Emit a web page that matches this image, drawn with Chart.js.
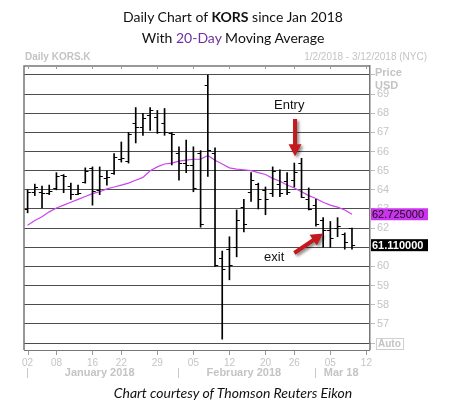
<!DOCTYPE html>
<html><head><meta charset="utf-8">
<script src="https://cdn.jsdelivr.net/npm/chart.js@4.4.1/dist/chart.umd.min.js"></script>
<style>
html,body{margin:0;padding:0;background:#fff;}
#wrap{position:relative;width:466px;height:408px;overflow:hidden;background:#fff;}
#c{position:absolute;left:0;top:0;}
.t{position:absolute;left:0;width:466px;text-align:center;font-family:Lato,'Open Sans',sans-serif;color:#111;white-space:nowrap;font-size:14px;line-height:17px;}
.s{position:absolute;top:51px;font-family:'Liberation Sans',Arial,sans-serif;font-size:10px;line-height:12px;color:#c4c4c4;white-space:nowrap;}
</style></head><body>
<div id="wrap">
<canvas id="c" width="466" height="408"></canvas>
<div class="t" style="top:8px;">Daily Chart of <b>KORS</b> since Jan 2018</div>
<div class="t" style="top:29px;">With <span style="color:#7030a0">20-Day</span> Moving Average</div>
<div class="s" style="left:25px;font-weight:bold;">Daily KORS.K</div>
<div class="s" style="right:39px;">1/2/2018 - 3/12/2018 (NYC)</div>
<div class="t" style="top:384px;font-style:italic;">Chart courtesy of Thomson Reuters Eikon</div>
</div>
<script>
// Trading days shown on the axis
const dates = ['01-02','01-03','01-04','01-05','01-08','01-09','01-10','01-11','01-12','01-16','01-17','01-18','01-19','01-22','01-23','01-24','01-25','01-26','01-29','01-30','01-31',
'02-01','02-02','02-05','02-06','02-07','02-08','02-09','02-12','02-13','02-14','02-15','02-16','02-20','02-21','02-22','02-23','02-26','02-27','02-28',
'03-01','03-02','03-05','03-06','03-07','03-08','03-09','03-12'];
const opens  = [63.0,63.9,63.9,63.85,64.1,64.75,64.2,63.8,64.4,65.15,64.0,64.6,64.9,65.6,65.5,67.5,67.3,67.9,67.8,67.5,66.95,65.9,65.4,65.3,65.9,69.5,65.9,60.45,60.9,61.0,63.1,63.9,64.3,64.0,63.85,64.3,64.45,64.5,65.4,63.5,63.2,62.45,61.9,62.0,61.7,62.0];
const highs  = [64.0,64.3,64.2,64.25,64.9,64.8,64.35,64.25,65.15,65.2,65.2,65.0,65.9,66.5,67.0,68.3,68.0,68.3,68.15,68.25,67.0,66.25,66.6,66.25,66.05,70.0,66.2,60.8,61.55,62.95,63.5,64.9,64.35,64.15,65.2,65.05,64.9,65.4,65.65,64.1,63.5,62.55,62.35,62.55,61.75,62.0];
const lows   = [62.8,63.7,63.05,63.75,64.0,63.85,63.5,63.75,64.35,63.2,63.75,64.25,64.8,65.45,65.4,66.45,66.85,67.1,66.95,66.85,65.3,64.5,64.9,63.9,62.05,64.7,60.0,56.2,59.3,60.5,61.8,63.4,63.0,62.7,63.65,63.65,63.75,64.15,63.6,62.95,62.1,61.0,61.0,61.55,60.9,60.9];
const closes = [63.9,64.15,63.85,63.95,64.7,64.7,63.8,63.85,65.0,63.95,64.7,64.65,65.7,65.65,66.9,67.3,67.75,68.15,67.0,67.0,66.9,65.4,65.3,64.1,62.2,66.1,60.1,59.85,60.05,62.45,62.2,64.5,63.5,63.5,65.0,63.85,63.9,64.95,63.65,63.0,62.2,61.9,61.5,62.1,61.3,61.11];
const ma20   = [62.15,62.4,62.6,62.85,63.05,63.2,63.35,63.5,63.65,63.8,63.9,64.05,64.15,64.25,64.35,64.5,64.65,65.0,65.2,65.35,65.4,65.5,65.55,65.6,65.6,65.8,65.55,65.35,65.15,65.08,65.05,65.0,64.9,64.8,64.6,64.45,64.25,64.1,63.9,63.7,63.55,63.35,63.2,63.1,62.95,62.725];
const xTickIdx = [0,4,9,13,18,23,28,33,37,42,47];
const yTicks = [56,57,58,59,60,61,62,63,64,65,66,67,68,69,70];
const months = [{label:'January 2018',start:0,end:20},{label:'February 2018',start:21,end:39},{label:'Mar 18',start:40,end:47}];
const notes = [{text:'Entry',i:36.3,p:68.42},{text:'exit',i:34.2,p:60.46}];
const arrows = [{i0:37.1,p0:67.7,i1:37.1,p1:65.75},{i0:37.0,p0:60.7,i1:41.0,p1:61.72}];

function arrow(ctx,x0,y0,x1,y1,sw,hw,hl){
  const a=Math.atan2(y1-y0,x1-x0), L=Math.hypot(x1-x0,y1-y0);
  ctx.save(); ctx.translate(x0,y0); ctx.rotate(a);
  ctx.beginPath();
  ctx.moveTo(0,-sw/2); ctx.lineTo(L-hl,-sw/2); ctx.lineTo(L-hl,-hw/2); ctx.lineTo(L,0);
  ctx.lineTo(L-hl,hw/2); ctx.lineTo(L-hl,sw/2); ctx.lineTo(0,sw/2); ctx.closePath();
  ctx.fill(); ctx.restore();
}

const deco = {
  id:'deco',
  afterDatasetsDraw(chart){
    const {ctx, chartArea:ca, scales:{x,y}} = chart;
    ctx.save();
    // open / close ticks
    ctx.strokeStyle='#000'; ctx.lineWidth=1;
    for(let i=0;i<opens.length;i++){
      const px=x.getPixelForValue(i);
      const yo=Math.round(y.getPixelForValue(opens[i]))+0.5, yc=Math.round(y.getPixelForValue(closes[i]))+0.5;
      ctx.beginPath(); ctx.moveTo(px-3.2,yo); ctx.lineTo(px,yo); ctx.moveTo(px,yc); ctx.lineTo(px+3.2,yc); ctx.stroke();
    }
    // frame
    ctx.strokeStyle='#777'; ctx.lineWidth=1.5;
    ctx.beginPath(); ctx.moveTo(ca.left,ca.bottom+7); ctx.lineTo(ca.left,ca.top); ctx.lineTo(ca.right,ca.top); ctx.stroke();
    ctx.beginPath(); ctx.moveTo(ca.right,ca.bottom); ctx.lineTo(ca.right,ca.bottom+7); ctx.stroke();
    ctx.lineWidth=1;
    ctx.beginPath(); ctx.moveTo(ca.left,ca.bottom+7.5); ctx.lineTo(ca.right,ca.bottom+7.5); ctx.stroke();
    ctx.strokeStyle='#999';
    xTickIdx.forEach(i=>{
      const px=Math.round(x.getPixelForValue(i))+0.5;
      ctx.beginPath(); ctx.moveTo(px,ca.top); ctx.lineTo(px,ca.top+3); ctx.stroke();
      ctx.beginPath(); ctx.moveTo(px,ca.bottom+7.5); ctx.lineTo(px,ca.bottom+12); ctx.stroke();
    });
    // months
    ctx.fillStyle='#c4c4c4'; ctx.font='bold 11px "Liberation Sans", Arial, sans-serif';
    ctx.textAlign='center'; ctx.textBaseline='middle';
    ctx.strokeStyle='#c8c8c8';
    months.forEach(m=>{
      ctx.fillText(m.label, x.getPixelForValue((m.start+m.end)/2), ca.bottom+30);
      const sx=Math.round(x.getPixelForValue(m.start-0.5))+3.5;
      ctx.beginPath(); ctx.moveTo(sx,ca.bottom+25); ctx.lineTo(sx,ca.bottom+35); ctx.stroke();
    });
    ctx.restore();
  },
  afterDraw(chart){
    const {ctx, chartArea:ca, scales:{x,y}} = chart;
    ctx.save();
    // axis captions
    ctx.fillStyle='#c4c4c4'; ctx.font='bold 11px "Liberation Sans", Arial, sans-serif';
    ctx.textAlign='left'; ctx.textBaseline='middle';
    ctx.fillText('Price', ca.right+5, ca.top+7);
    ctx.fillText('USD', ca.right+5, ca.top+20);
    ctx.strokeStyle='#cfcfcf'; ctx.lineWidth=1;
    ctx.strokeRect(ca.right+6.5, ca.bottom-4.5, 27, 11);
    ctx.font='bold 10px "Liberation Sans", Arial, sans-serif';
    ctx.fillText('Auto', ca.right+8, ca.bottom+1);
    // last value tags
    const ym=y.getPixelForValue(ma20[ma20.length-1]);
    ctx.fillStyle='#cc33ee'; ctx.fillRect(ca.right+1, ym-6, 57, 12);
    ctx.fillStyle='#111'; ctx.font='11px "Liberation Sans", Arial, sans-serif';
    ctx.fillText(ma20[ma20.length-1].toFixed(6), ca.right+2, ym+0.5);
    const yc=y.getPixelForValue(closes[closes.length-1]);
    ctx.fillStyle='#000'; ctx.fillRect(ca.right+1, yc-6, 57, 12);
    ctx.fillStyle='#fff'; ctx.font='bold 11px "Liberation Sans", Arial, sans-serif';
    ctx.fillText(closes[closes.length-1].toFixed(6), ca.right+2, yc+0.5);
    // annotations
    ctx.fillStyle='#111'; ctx.font='13px "Liberation Sans", Arial, sans-serif'; ctx.textAlign='center';
    notes.forEach(n=>ctx.fillText(n.text, x.getPixelForValue(n.i), y.getPixelForValue(n.p)));
    ctx.fillStyle='#c41a1f';
    ctx.shadowColor='rgba(0,0,0,0.45)'; ctx.shadowBlur=3; ctx.shadowOffsetX=2; ctx.shadowOffsetY=2;
    arrows.forEach(a=>arrow(ctx, x.getPixelForValue(a.i0), y.getPixelForValue(a.p0), x.getPixelForValue(a.i1), y.getPixelForValue(a.p1), 4, 13, 12));
    ctx.restore();
  }
};

new Chart(document.getElementById('c'), {
  type:'bar',
  data:{
    labels: dates,
    datasets:[
      {type:'line', data: ma20, borderColor:'#cc44ee', borderWidth:1.2, pointRadius:0, tension:0, order:2},
      {type:'bar', data: highs.map((h,i)=>[lows[i],h]), backgroundColor:'#000', barThickness:1, grouped:false, order:1}
    ]
  },
  options:{
    responsive:false, animation:false,
    layout:{padding:{left:24, top:66, right:0, bottom:0}},
    plugins:{legend:{display:false}, tooltip:{enabled:false}},
    scales:{
      x:{type:'category', offset:true,
        grid:{display:false, drawTicks:false}, border:{display:false},
        afterBuildTicks: s => { s.ticks = xTickIdx.map(v=>({value:v})); },
        ticks:{autoSkip:false, maxRotation:0, padding:14, color:'#c4c4c4', font:{family:'Liberation Sans', size:10},
          callback: v => dates[v].slice(3)},
        afterFit: s => { s.height = 65; }
      },
      y:{position:'right', min:56, max:70.47,
        afterBuildTicks: s => { s.ticks = yTicks.map(v=>({value:v})); },
        grid:{color:'#4d4d4d', lineWidth:1, tickLength:5, tickColor:'#bdbdbd'},
        border:{display:true, color:'#777', width:1.5},
        ticks:{padding:2, color:'#c4c4c4', font:{family:'Liberation Sans', size:11},
          callback: v => (v>=57 && v<=69) ? String(v) : ''},
        afterFit: s => { s.width = 96; }
      }
    }
  },
  plugins:[deco]
});
</script>
</body></html>
